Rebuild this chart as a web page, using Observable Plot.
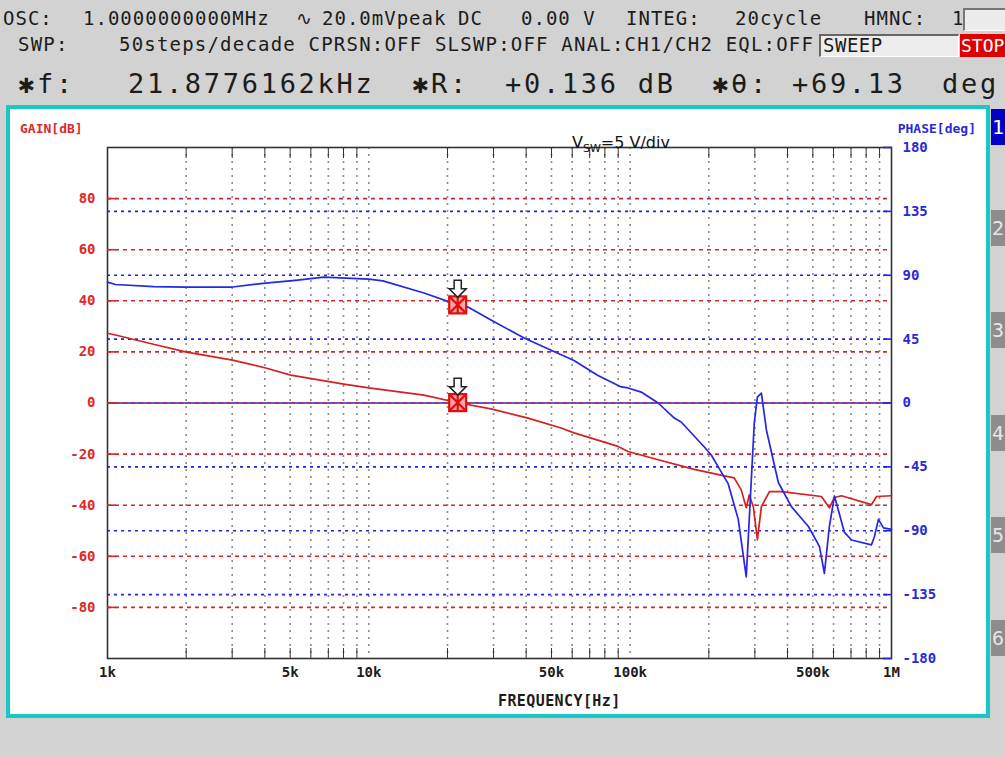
<!DOCTYPE html>
<html><head><meta charset="utf-8">
<script src="https://cdn.jsdelivr.net/npm/d3@7"></script>
<script src="https://cdn.jsdelivr.net/npm/@observablehq/plot@0.6"></script>
<style>
html,body{margin:0;padding:0;}
body{width:1005px;height:757px;background:#d2d2d2;position:relative;overflow:hidden;font-family:"DejaVu Sans Mono",monospace;}
.t{position:absolute;white-space:pre;color:#1c1c1c;line-height:1;}
.l1{font-size:19px;top:9px;letter-spacing:1px;}
.l2{font-size:19px;top:35px;letter-spacing:1.2px;}
.l3{font-size:27px;top:70px;letter-spacing:2.7px;}
#frame{position:absolute;left:6px;top:105px;width:976px;height:605px;border:4px solid #1bc6c6;background:#fff;}
#frame svg{position:absolute;left:0;top:0;}
.o{position:absolute;white-space:pre;line-height:1;}
.tab{position:absolute;left:991px;width:14px;height:36px;background:#8c8c8c;color:#e6e6e6;font-size:20px;line-height:36px;padding-left:1px;}
.box{position:absolute;box-sizing:border-box;}
</style></head>
<body>
<div class="t l1" style="left:3px">OSC:</div>
<div class="t l1" style="left:83px">1.0000000000MHz</div>
<div class="t l1" style="left:296px">∿</div>
<div class="t l1" style="left:322px">20.0mVpeak</div>
<div class="t l1" style="left:458px">DC</div>
<div class="t l1" style="left:521px">0.00 V</div>
<div class="t l1" style="left:626px">INTEG:</div>
<div class="t l1" style="left:735px">20cycle</div>
<div class="t l1" style="left:864px">HMNC:</div>
<div class="t l1" style="left:952px">1</div>
<div class="box" style="left:963px;top:8px;width:42px;height:23px;background:#ececec;border-top:2px solid #777;border-left:2px solid #777;border-bottom:1px solid #fff;"></div>
<div class="t l2" style="left:18px">SWP:</div>
<div class="t l2" style="left:119px">50steps/decade CPRSN:OFF SLSWP:OFF ANAL:CH1/CH2 EQL:OFF</div>
<div class="box" style="left:819px;top:34px;width:140px;height:23px;background:#ededed;border-top:2px solid #666;border-left:2px solid #666;border-right:1px solid #fff;border-bottom:1px solid #fff;"></div>
<div class="t l2" style="left:823px;top:36px;letter-spacing:0.5px">SWEEP</div>
<div class="box" style="left:960px;top:34px;width:45px;height:23px;background:#e00000;"></div>
<div class="t" style="left:961px;top:37px;color:#fff;font-size:18px;letter-spacing:0;">STOP</div>
<div class="t l3" style="left:18px">✱f:</div>
<div class="t l3" style="left:128px">21.8776162kHz</div>
<div class="t l3" style="left:412px">✱R:</div>
<div class="t l3" style="left:505px">+0.136 dB</div>
<div class="t l3" style="left:712px">✱θ:</div>
<div class="t l3" style="left:792px">+69.13</div>
<div class="t l3" style="left:942px">deg</div>

<div id="frame">
  <div class="o" style="left:10px;top:13px;color:#e02828;font-size:13px;font-weight:bold;">GAIN[dB]</div>
  <div class="o" style="right:10px;top:13px;color:#2a2ad8;font-size:13px;font-weight:bold;">PHASE[deg]</div>
  <div class="o" style="left:488px;top:585px;color:#1c1c1c;font-size:15px;letter-spacing:0.4px;font-weight:bold;">FREQUENCY[Hz]</div>
</div>
<div class="o" style="left:572px;top:135px;color:#111;font-size:16px;font-family:'DejaVu Sans',sans-serif;z-index:5;">V<sub style="font-size:11px;">SW</sub>=5 V/div</div>

<div class="tab" style="top:109px;background:#0000c8;color:#fff;">1</div>
<div class="tab" style="top:210px;">2</div>
<div class="tab" style="top:312px;">3</div>
<div class="tab" style="top:415px;">4</div>
<div class="tab" style="top:517px;">5</div>
<div class="tab" style="top:620px;">6</div>

<script>
// ---- data ----
const gainFreq = [1000,1073,1500,2007,3012,4030,5025,8020,10000,16250,21930,29330,40650,54420,60970,89900,98200,128000,156700,175800,229100,250100,266100,278100,285600,296000,306800,317800,341200,379300,539500,578400,605000,643100,837900,876700,1000000];
const gainDb = [27.3,26.6,23.0,19.9,16.8,13.7,10.9,7.4,5.9,3.1,0.1,-2.3,-5.9,-9.8,-11.7,-17.0,-19.0,-22.2,-24.6,-26.0,-28.5,-29.3,-34.0,-41.0,-36.0,-40.6,-53.5,-40.5,-34.7,-34.7,-36.6,-41.0,-37.0,-36.3,-39.8,-36.6,-36.3];
const phaseFreq = [1000,1073,1500,2007,3012,4030,5345,6724,10000,11320,16250,21930,23950,29330,39270,54420,60970,75000,92400,98200,110200,128000,147500,156700,192200,204300,217300,237300,259200,278100,290800,298500,306800,317800,332100,369000,414000,481000,530000,553600,578400,605000,660200,702700,837900,860500,891300,931600,1000000];
const phaseDeg = [85.2,83.5,82.0,81.7,81.7,84.5,86.6,88.7,87.3,86.0,77.5,69.1,67.6,58.4,45.8,34.0,30.0,19.5,11.3,10.6,7.7,0,-10.6,-13.4,-31,-36.6,-45,-57,-82,-122.5,-54,-14,4.2,7,-19,-56,-73,-87,-101,-120,-87,-65.5,-91,-96.5,-100,-94,-82,-88,-89];
const gainTicks = [-80,-60,-40,-20,0,20,40,60,80];
const phaseTicks = [-180,-135,-90,-45,0,45,90,135,180];
const freqLabelTicks = [1e3,5e3,1e4,5e4,1e5,5e5,1e6];
const freqLabels = ["1k","5k","10k","50k","100k","500k","1M"];
const minorTicks = [2e3,3e3,4e3,5e3,6e3,7e3,8e3,9e3,2e4,3e4,4e4,5e4,6e4,7e4,8e4,9e4,2e5,3e5,4e5,5e5,6e5,7e5,8e5,9e5];
const gridFreqs = minorTicks.concat([1e4,1e5]);
const markerFreq = 21877.6162;
const markerGain = 0.136;
const markerPhase = 69.13;

// ---- build ----
const P2G = 100/180; // phase degrees -> shared y units (gain dB)
const RED = "#e02828", BLUE = "#2a2ad8", LRED = "#d82424", LBLUE = "#2323e0";
const gainData = gainFreq.map((f,i)=>({f, v: gainDb[i]}));
const phaseData = phaseFreq.map((f,i)=>({f, v: phaseDeg[i]*P2G}));
const markers = [{f: markerFreq, v: markerGain},{f: markerFreq, v: markerPhase*P2G}];
const freqLabelData = freqLabelTicks.map((f,i)=>({f, label: freqLabels[i]}));

const boxX = {draw(ctx, size){const r=Math.sqrt(size/Math.PI);
  ctx.moveTo(-r,-r);ctx.lineTo(r,-r);ctx.lineTo(r,r);ctx.lineTo(-r,r);ctx.closePath();
  ctx.moveTo(-r,-r);ctx.lineTo(r,r);ctx.moveTo(r,-r);ctx.lineTo(-r,r);
  ctx.moveTo(0,-r);ctx.lineTo(0,r);}};
const downArrow = {draw(ctx, size){const r=Math.sqrt(size/Math.PI), w=0.42*r;
  ctx.moveTo(-w,-r);ctx.lineTo(w,-r);ctx.lineTo(w,0);ctx.lineTo(r,0);ctx.lineTo(0,r);ctx.lineTo(-r,0);ctx.lineTo(-w,0);ctx.closePath();}};

const chart = Plot.plot({
  width: 976, height: 605,
  marginLeft: 97, marginRight: 95, marginTop: 38, marginBottom: 56,
  x: {type: "log", domain: [1e3, 1e6], label: null},
  y: {domain: [-100, 100], label: null},
  style: {background: "transparent", fontFamily: "DejaVu Sans Mono", fontSize: "14px"},
  marks: [
    Plot.ruleX(gridFreqs, {stroke: "#8c8c8c", strokeDasharray: "2,5", strokeWidth: 1.6}),
    Plot.ruleY(phaseTicks.filter(d => d !== 0 && Math.abs(d) !== 180).map(d => d*P2G), {stroke: LBLUE, strokeDasharray: "3,4", strokeWidth: 1.6}),
    Plot.ruleY([0], {stroke: LBLUE, strokeWidth: 1.6}),
    Plot.ruleY(gainTicks, {stroke: LRED, strokeDasharray: "4,4", strokeWidth: 1.6}),
    Plot.frame({stroke: "#333", strokeWidth: 1.6}),
    Plot.axisX(minorTicks, {anchor: "bottom", tickSize: -10, tickFormat: () => "", stroke: "#333", label: null}),
    Plot.axisX(minorTicks, {anchor: "top", tickSize: -10, tickFormat: () => "", stroke: "#333", label: null}),
    Plot.text(freqLabelData, {x: "f", text: "label", frameAnchor: "bottom", lineAnchor: "top", dy: 9, fill: "#1c1c1c", fontWeight: "bold", fontSize: 14}),
    Plot.axisY(gainTicks, {anchor: "left", tickSize: -9, tickPadding: 0, tickFormat: () => "", stroke: LRED, strokeWidth: 1.6, label: null}),
    Plot.axisY(gainTicks, {anchor: "left", tickSize: 0, tickPadding: 12, tickFormat: d => String(d), fill: RED, fontWeight: "bold", label: null}),
    Plot.axisY(phaseTicks.map(d => d*P2G), {anchor: "right", tickSize: -9, tickPadding: 0, tickFormat: () => "", stroke: LBLUE, strokeWidth: 1.6, label: null}),
    Plot.axisY(phaseTicks.map(d => d*P2G), {anchor: "right", tickSize: 0, tickPadding: 11, tickFormat: d => String(Math.round(d/P2G)), fill: BLUE, fontWeight: "bold", label: null}),
    Plot.line(gainData, {x: "f", y: "v", stroke: "#d42020", strokeWidth: 1.7}),
    Plot.line(phaseData, {x: "f", y: "v", stroke: "#2626e6", strokeWidth: 1.7}),
    Plot.dot(markers, {x: "f", y: "v", symbol: boxX, r: 8.5, fill: "#f5a8a8", stroke: "#e01010", strokeWidth: 2.2}),
    Plot.dot(markers, {x: "f", y: "v", symbol: downArrow, r: 8.5, dy: -16, fill: "#fff", stroke: "#222", strokeWidth: 1.5})
  ]
});
document.getElementById("frame").prepend(chart);
</script>
</body></html>
